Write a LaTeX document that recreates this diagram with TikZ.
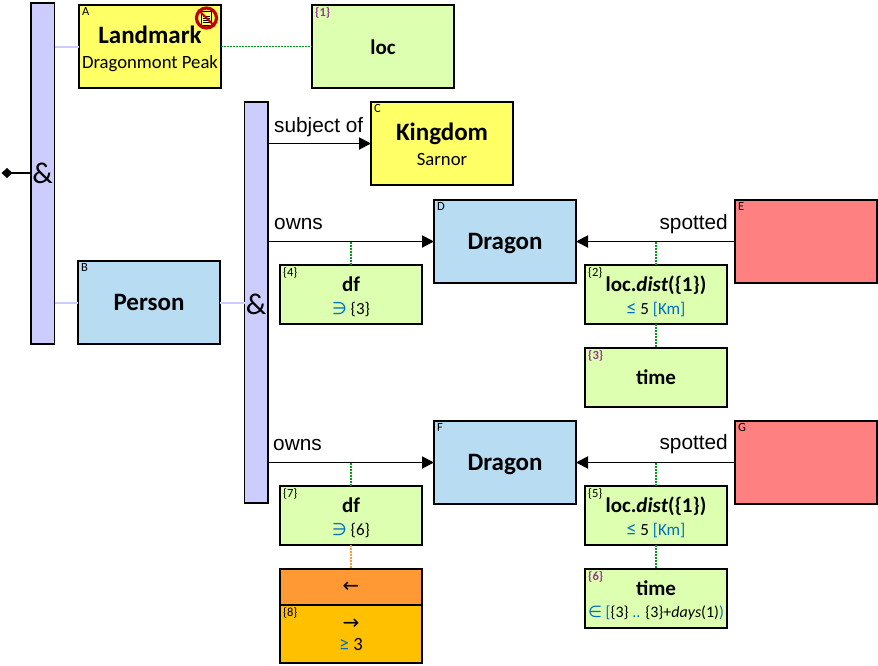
\documentclass[tikz,border=0pt]{standalone}
\usepackage{fontspec}
\setmainfont{Carlito}
\newfontfamily\edgefont{Liberation Sans}
\newfontfamily\symfont{DejaVu Sans}
\usetikzlibrary{arrows.meta}
\definecolor{entityyellow}{HTML}{FFFF66}
\definecolor{entityblue}{HTML}{B8DCF2}
\definecolor{entityred}{HTML}{FF8080}
\definecolor{attrgreen}{HTML}{DDFFB0}
\definecolor{barlilac}{HTML}{CCCCFF}
\definecolor{aggorange}{HTML}{FF9933}
\definecolor{agggold}{HTML}{FFC000}
\definecolor{opblue}{HTML}{0070C0}
\definecolor{tagpurple}{HTML}{993399}
\definecolor{linkgreen}{HTML}{009A1F}
% Lines of text with a fixed height and no depth, so descenders do not shift them.
\newcommand{\nm}[1]{\raisebox{0pt}[16pt][0pt]{\fontsize{25}{29}\selectfont\bfseries #1}}
\newcommand{\attrname}[1]{\raisebox{0pt}[13.5pt][0pt]{\fontsize{21}{26}\selectfont\bfseries #1}}
\newcommand{\flatline}[1]{\raisebox{0pt}[11pt][0pt]{#1}}
\newcommand{\op}[1]{\textcolor{opblue}{#1}}
\newcommand{\cmp}[1]{\op{\fontsize{20}{24}\selectfont #1}}

\begin{document}
\begin{tikzpicture}[x=1pt,y=-1pt,
  box/.style={draw=black,line width=1.9pt,inner sep=0pt,outer sep=0pt,align=center,anchor=north west,
    text=black,font=\fontsize{18.7}{24}\selectfont},
  entity/.style={box,minimum width=142pt,minimum height=83pt},
  attr/.style={box,fill=attrgreen,minimum width=142pt,minimum height=59pt,font=\fontsize{17}{24}\selectfont},
  bar/.style={draw=black,line width=1.9pt,fill=barlilac,inner sep=0pt,outer sep=0pt,anchor=north west,minimum width=23.5pt},
  tag/.style={anchor=north west,inner sep=0pt,font=\fontsize{12.5}{12.5}\selectfont},
  rel/.style={line width=1.9pt,-{Triangle[length=12pt,width=12pt]}},
  member/.style={barlilac,line width=2pt},
  attrlink/.style={linkgreen,line width=1.6pt,dash pattern=on 1.6pt off 1.4pt},
  agglink/.style={aggorange,line width=1.6pt,dash pattern=on 1.6pt off 1.4pt},
  edgelabel/.style={inner sep=0pt,font=\edgefont\fontsize{20.8}{22}\selectfont}]
  \useasboundingbox (0,0) rectangle (878,665);
  % Conjunction bars.
  \node[bar,minimum height=341pt] (barroot) at (31,3) {};
  \node[bar,minimum height=401pt] (barperson) at (244.5,102) {};
  \node[font=\fontsize{30}{30}\selectfont] (amproot) at (42.5,173) {\&};
  \node[font=\fontsize{30}{30}\selectfont] (ampperson) at (256,304) {\&};
  % Entities.
  \node[entity,fill=entityyellow] (landmark) at (79,5) {\rule{0pt}{18pt}\nm{Landmark}\\[1pt]\flatline{Dragonmont Peak}};
  \node[entity,fill=entityblue] (person) at (78,261) {\nm{Person}};
  \node[entity,fill=entityyellow] (kingdom) at (371,102) {\rule{0pt}{18pt}\nm{Kingdom}\\[1pt]\flatline{Sarnor}};
  \node[entity,fill=entityblue] (dragona) at (434,200) {\nm{Dragon}};
  \node[entity,fill=entityred] (sightinga) at (735,200) {};
  \node[entity,fill=entityblue] (dragonb) at (434,421) {\nm{Dragon}};
  \node[entity,fill=entityred] (sightingb) at (735,421) {};
  % Attributes.
  \node[entity,fill=attrgreen] (loc) at (312,5) {\rule{0pt}{15.5pt}\attrname{loc}};
  \node[attr] (dfa) at (280,265) {\rule{0pt}{16.5pt}\attrname{df}\\[-1pt]\flatline{\op{{\symfont ∋}} \{3\}}};
  \node[attr] (dista) at (585,265) {\rule{0pt}{16.5pt}\attrname{loc.\textit{dist}(\{1\})}\\[-1pt]\flatline{\cmp{≤} 5 \op{[Km]}}};
  \node[attr] (timea) at (585,348) {\attrname{time}};
  \node[attr] (dfb) at (280,486) {\rule{0pt}{16.5pt}\attrname{df}\\[-1pt]\flatline{\op{{\symfont ∋}} \{6\}}};
  \node[attr] (distb) at (585,486) {\rule{0pt}{16.5pt}\attrname{loc.\textit{dist}(\{1\})}\\[-1pt]\flatline{\cmp{≤} 5 \op{[Km]}}};
  \node[attr] (timeb) at (585,569) {\rule{0pt}{15.5pt}\attrname{time}\\[-2pt]\flatline{\fontsize{16}{24}\selectfont\op{{\symfont ∈} [}\{3\} \op{..} \{3\}+\textit{days}(1)\op{)}}};
  % Aggregate box with its two halves.
  \node[box,fill=aggorange,minimum width=142pt,minimum height=36pt] (aggback) at (280,569) {{\symfont\fontsize{20}{20}\selectfont ←}};
  \node[box,fill=agggold,minimum width=142pt,minimum height=58pt] (aggfront) at (280,605) {\flatline{\symfont\fontsize{20}{20}\selectfont →}\\[-3pt]\flatline{\cmp{≥} 3}};
  % Small letters and numbers in the corners.
  \foreach \n/\t in {landmark/A,person/B,kingdom/C,dragona/D,sightinga/E,dragonb/F,sightingb/G,dfa/\{4\},dista/\{2\},dfb/\{7\},distb/\{5\},aggfront/\{8\}} {
    \node[tag] (tag\n) at ([shift={(3,2.5)}]\n.north west) {\t};
  }
  \foreach \n/\t in {loc/\{1\},timea/\{3\},timeb/\{6\}} {
    \node[tag,text=tagpurple,font=\fontsize{12.5}{12.5}\selectfont\bfseries] (tag\n) at ([shift={(3,2.5)}]\n.north west) {\t};
  }
  % Forbidden-document badge on the first entity.
  \node[draw=black,fill=entityyellow,line width=.9pt,inner sep=0pt,minimum width=10pt,minimum height=14pt] (badgedoc) at (206.5,18) {};
  \foreach \dy in {-2,0,2,4} {
    \draw[line width=.8pt] ([shift={(-3.5,\dy)}]badgedoc.center) -- ([shift={(3.5,\dy)}]badgedoc.center);
  }
  \node[circle,draw=red!75!black,line width=3.2pt,inner sep=0pt,minimum size=20pt] (badge) at (206.5,18) {};
  \draw[red!75!black,line width=2pt] (badge.north west) -- (badge.south east);
  % Membership lines.
  \draw[member] (barroot.east |- landmark.west) -- (landmark.west);
  \draw[member] (barroot.east |- person.west) -- (person.west);
  \draw[member] (person.east) -- (person.east -| barperson.west);
  % Root marker.
  \coordinate (rootend) at (1.5,173);
  \draw[line width=1.7pt,{Diamond[length=11pt,width=10pt]}-] (rootend) -- (rootend -| barroot.west);
  % Relations.
  \draw[rel] (barperson.east |- kingdom.west) -- (kingdom.west);
  \draw[rel] (barperson.east |- dragona.west) -- (dragona.west);
  \draw[rel] (barperson.east |- dragonb.west) -- (dragonb.west);
  \draw[rel] (sightinga.west) -- (dragona.east);
  \draw[rel] (sightingb.west) -- (dragonb.east);
  \node[edgelabel,anchor=base west] (lblsubject) at (274,132) {subject of};
  \node[edgelabel,anchor=base west] (lblownsa) at (274,229) {owns};
  \node[edgelabel,anchor=base west] (lblownsb) at (273,450) {owns};
  \node[edgelabel,anchor=base east] (lblspotteda) at (728,229) {spotted};
  \node[edgelabel,anchor=base east] (lblspottedb) at (728,449.5) {spotted};
  % Attribute links, dotted.
  \draw[attrlink] (landmark.east |- loc.west) -- (loc.west);
  \draw[attrlink] (dfa.north) -- (dfa.north |- dragona.west);
  \draw[attrlink] (dista.north) -- (dista.north |- dragona.east);
  \draw[attrlink] (dista.south) -- (timea.north);
  \draw[attrlink] (dfb.north) -- (dfb.north |- dragonb.west);
  \draw[attrlink] (distb.north) -- (distb.north |- dragonb.east);
  \draw[attrlink] (distb.south) -- (timeb.north);
  \draw[agglink] (dfb.south) -- (aggback.north);
\end{tikzpicture}
\end{document}
